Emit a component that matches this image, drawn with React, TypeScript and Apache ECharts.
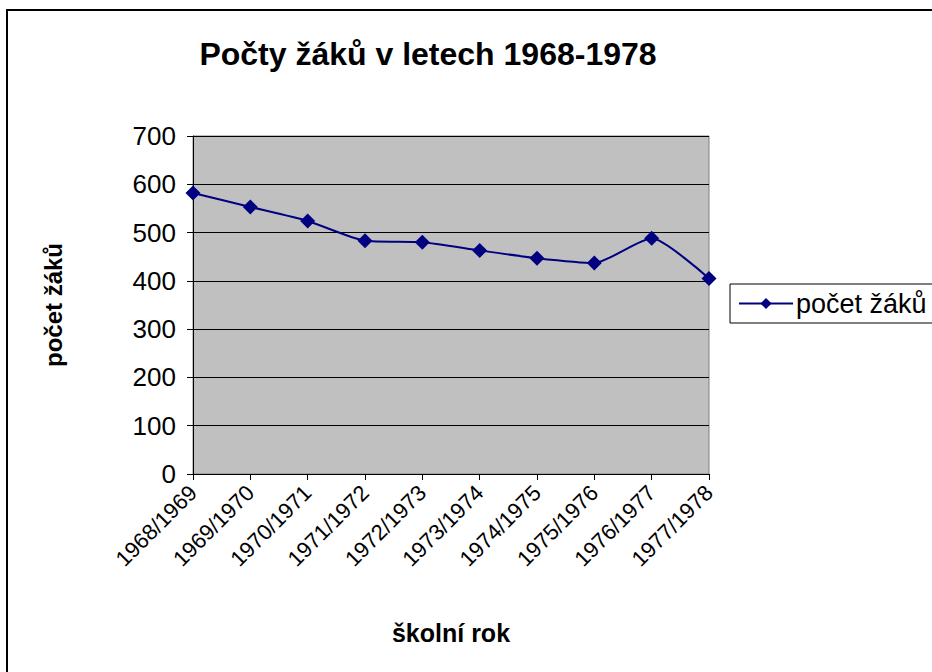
import React, { useEffect, useRef } from "react";
import * as echarts from "echarts";

const categories = [
  "1968/1969", "1969/1970", "1970/1971", "1971/1972", "1972/1973",
  "1973/1974", "1974/1975", "1975/1976", "1976/1977", "1977/1978",
];
const pupils = [582, 553, 524, 483, 480, 463, 447, 437, 488, 405];
const seriesName = "počet žáků";
const titleText = "Počty žáků v letech 1968-1978";
const xName = "školní rok";
const yName = "počet žáků";

const FONT = "Liberation Sans, Arial, sans-serif";

export default function App() {
  const ref = useRef<HTMLDivElement>(null);
  useEffect(() => {
    if (!ref.current) return;
    const chart = echarts.init(ref.current, null, { renderer: "svg" });
    chart.setOption({
      animation: false,
      backgroundColor: "#ffffff",
      textStyle: { fontFamily: FONT },
      title: {
        text: titleText,
        left: 423,
        top: 33,
        textAlign: "center",
        textStyle: { fontFamily: FONT, fontSize: 32, fontWeight: "bold", color: "#000" },
      },
      graphic: [
        {
          type: "rect",
          shape: { x: 7, y: 10, width: 1000, height: 800 },
          style: { fill: "none", stroke: "#000", lineWidth: 2 },
          silent: true,
        },
      ],
      legend: {
        show: true,
        left: 730,
        top: 284,
        orient: "vertical",
        padding: [6, 6, 6, 8],
        borderColor: "#000",
        borderWidth: 1,
        itemWidth: 54,
        itemHeight: 14,
        itemGap: 4,
        textStyle: { fontFamily: FONT, fontSize: 27, color: "#000", padding: [0, 0, 0, -2] },
        data: [seriesName],
      },
      grid: {
        left: 193,
        top: 136,
        width: 516,
        height: 338,
        show: true,
        backgroundColor: "#c0c0c0",
        borderColor: "#808080",
        borderWidth: 1,
        containLabel: false,
      },
      xAxis: {
        type: "category",
        data: categories,
        boundaryGap: false,
        name: xName,
        nameLocation: "middle",
        nameGap: 146,
        nameTextStyle: { fontFamily: FONT, fontSize: 25, fontWeight: "bold", color: "#000" },
        axisLine: { show: true, lineStyle: { color: "#000", width: 1 } },
        axisTick: { show: true, length: 6, alignWithLabel: true, lineStyle: { color: "#000" } },
        axisLabel: {
          rotate: 45,
          margin: 15,
          fontFamily: FONT,
          fontSize: 22,
          color: "#000",
          interval: 0,
        },
        splitLine: { show: false },
      },
      yAxis: {
        type: "value",
        min: 0,
        max: 700,
        interval: 100,
        name: yName,
        nameLocation: "middle",
        nameGap: 128,
        nameRotate: 90,
        nameTextStyle: { fontFamily: FONT, fontSize: 24, fontWeight: "bold", color: "#000" },
        axisLine: { show: true, lineStyle: { color: "#000", width: 1 } },
        axisTick: { show: true, length: 6, lineStyle: { color: "#000" } },
        axisLabel: { margin: 17, fontFamily: FONT, fontSize: 26, color: "#000" },
        splitLine: { show: true, lineStyle: { color: "#000", width: 1 } },
      },
      series: [
        {
          name: seriesName,
          type: "line",
          data: pupils,
          smooth: 0.2,
          symbol: "diamond",
          symbolSize: 15,
          itemStyle: { color: "#000080" },
          lineStyle: { color: "#000080", width: 2 },
        },
      ],
    });
    return () => chart.dispose();
  }, []);
  return (
    <div
      ref={ref}
      style={{ position: "fixed", left: 0, top: 0, width: 932, height: 672 }}
    />
  );
}
